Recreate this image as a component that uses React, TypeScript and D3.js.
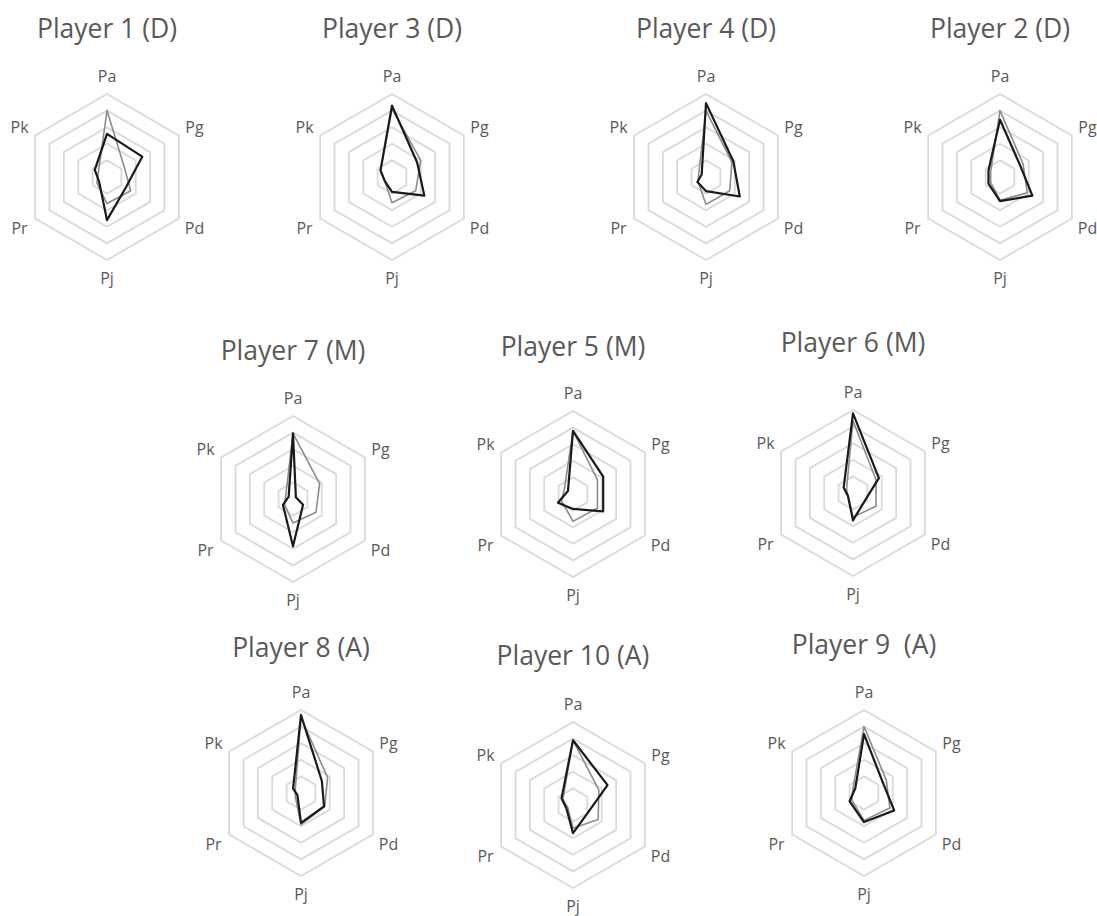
import React from "react";
import * as d3 from "d3";

// Six performance axes, clockwise from the top
const axes = ["Pa", "Pg", "Pd", "Pj", "Pr", "Pk"];

const players = [
  "Player 1 (D)",
  "Player 3 (D)",
  "Player 4 (D)",
  "Player 2 (D)",
  "Player 7 (M)",
  "Player 5 (M)",
  "Player 6 (M)",
  "Player 8 (A)",
  "Player 10 (A)",
  "Player 9  (A)",
];

// Grey profile, one row per player, values in axis order
const greyProfile = [
  [4.0, 1.2, 1.65, 1.6, 0.7, 0.6],
  [4.1, 2.0, 1.65, 1.55, 0.5, 0.8],
  [4.0, 1.8, 1.65, 1.65, 0.55, 0.5],
  [4.0, 1.6, 1.9, 1.4, 0.65, 0.65],
  [3.95, 1.85, 1.6, 1.45, 0.6, 0.5],
  [3.8, 1.7, 1.7, 1.65, 0.8, 0.6],
  [4.35, 1.6, 1.6, 1.45, 0.35, 0.45],
  [4.55, 1.85, 1.65, 1.9, 0.4, 0.4],
  [3.9, 1.8, 1.75, 1.4, 0.35, 0.7],
  [4.0, 1.55, 1.8, 1.65, 0.85, 0.75],
];

// Black profile, one row per player, values in axis order
const blackProfile = [
  [2.6, 2.45, 1.3, 2.6, 0.55, 0.85],
  [4.3, 1.75, 2.25, 0.9, 0.5, 0.8],
  [4.45, 1.9, 2.35, 0.85, 0.6, 0.3],
  [3.45, 1.4, 2.25, 1.45, 0.8, 0.8],
  [3.95, 0.2, 0.7, 2.85, 0.7, 0.3],
  [3.8, 2.1, 2.1, 0.9, 1.05, 0.35],
  [4.8, 1.8, 0.85, 1.65, 0.35, 0.65],
  [4.7, 1.45, 1.6, 1.8, 0.25, 0.55],
  [3.9, 2.4, 1.0, 1.7, 0.45, 0.8],
  [3.55, 1.3, 2.1, 1.75, 1.0, 0.6],
];

const gridLevels = [1, 2, 3, 4, 5];

// Panel placement: chart centre and title baseline
const panels = [
  { cx: 107, cy: 177, ty: 38 },
  { cx: 392, cy: 177, ty: 38 },
  { cx: 706, cy: 177, ty: 38 },
  { cx: 1000, cy: 177, ty: 38 },
  { cx: 293, cy: 499, ty: 360 },
  { cx: 573, cy: 494, ty: 356 },
  { cx: 853, cy: 493, ty: 352 },
  { cx: 301, cy: 793, ty: 657 },
  { cx: 573, cy: 805, ty: 665 },
  { cx: 864, cy: 793, ty: 654 },
];

const WIDTH = 1097;
const HEIGHT = 916;
const RADIUS = 83;
const FONT = "'Open Sans', 'DejaVu Sans', sans-serif";

const rScale = d3.scaleLinear().domain([0, 5]).range([0, RADIUS]);
const angle = d3
  .scalePoint<string>()
  .domain(axes)
  .range([0, (2 * Math.PI * (axes.length - 1)) / axes.length]);

const radial = d3
  .lineRadial<number>()
  .angle((_, i) => angle(axes[i]) as number)
  .radius((v) => rScale(v))
  .curve(d3.curveLinearClosed);

function Radar({ idx }: { idx: number }) {
  const p = panels[idx];
  return (
    <g>
      <text
        x={p.cx}
        y={p.ty}
        textAnchor="middle"
        fontFamily={FONT}
        fontSize={26.5}
        fill="#595959"
        style={{ whiteSpace: "pre" }}
      >
        {players[idx]}
      </text>
      <g transform={`translate(${p.cx},${p.cy})`}>
        {gridLevels.map((lv) => (
          <path
            key={lv}
            d={radial(axes.map(() => lv)) || ""}
            fill="none"
            stroke="#d9d9d9"
            strokeWidth={1.8}
          />
        ))}
        {axes.map((a) => {
          const t = angle(a) as number;
          const r = RADIUS + 18;
          return (
            <text
              key={a}
              x={r * Math.sin(t)}
              y={-r * Math.cos(t)}
              textAnchor="middle"
              dominantBaseline="central"
              fontFamily={FONT}
              fontSize={16}
              fill="#595959"
            >
              {a}
            </text>
          );
        })}
        <path
          d={radial(greyProfile[idx]) || ""}
          fill="none"
          stroke="#8c8c8c"
          strokeWidth={1.6}
          strokeLinejoin="round"
        />
        <path
          d={radial(blackProfile[idx]) || ""}
          fill="none"
          stroke="#1a1a1a"
          strokeWidth={2.2}
          strokeLinejoin="round"
        />
      </g>
    </g>
  );
}

export default function App() {
  return (
    <svg
      width={WIDTH}
      height={HEIGHT}
      style={{ position: "absolute", left: 0, top: 0, background: "#ffffff" }}
    >
      <rect width={WIDTH} height={HEIGHT} fill="#ffffff" />
      {players.map((_, i) => (
        <Radar key={i} idx={i} />
      ))}
    </svg>
  );
}
